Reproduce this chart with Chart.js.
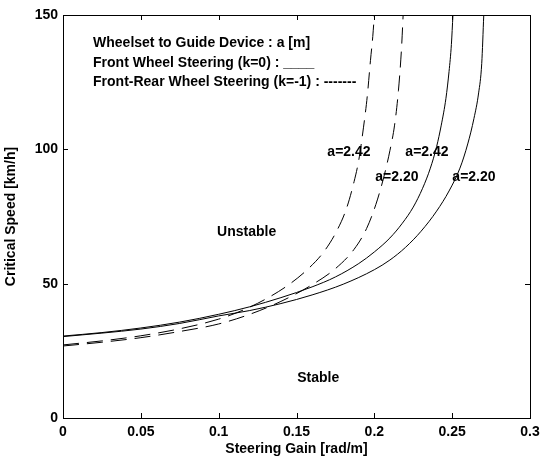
<!DOCTYPE html>
<html>
<head>
<meta charset="utf-8">
<script src="https://cdn.jsdelivr.net/npm/chart.js@4.4.0/dist/chart.umd.min.js"></script>
<style>
  html, body { margin: 0; padding: 0; background: #fff; }
</style>
</head>
<body>
<canvas id="ctxSpeed" width="546" height="466"></canvas>
<script>
// steering gain [rad/m] vs critical speed [km/h]
// k=0 (front wheel steering), solid
var gainK0a242 = [0, 0.025, 0.05, 0.075, 0.1, 0.12, 0.14, 0.16, 0.175, 0.19, 0.2, 0.21, 0.218, 0.225, 0.231, 0.236, 0.24, 0.243, 0.246, 0.248, 0.2495, 0.2505];
var speedK0a242 = [30.5, 31.8, 33.5, 35.7, 38.6, 41.4, 44.8, 48.8, 52.5, 57.5, 61.8, 67, 72.5, 78.5, 85.5, 93, 101, 109, 119, 129, 139, 150];

var gainK0a220 = [0, 0.025, 0.05, 0.075, 0.1, 0.12, 0.14, 0.16, 0.18, 0.2, 0.21, 0.22, 0.23, 0.24, 0.248, 0.255, 0.26, 0.264, 0.267, 0.269, 0.2703];
var speedK0a220 = [30.3, 31.6, 33.1, 35.2, 38, 40, 42.6, 45.8, 49.8, 55.2, 58.8, 63.5, 69.5, 77, 84.5, 93, 102, 111.5, 121, 132, 150];

// k=-1 (front-rear wheel steering), dashed
var gainK1a242 = [0, 0.025, 0.05, 0.075, 0.1, 0.115, 0.13, 0.145, 0.158, 0.168, 0.176, 0.182, 0.187, 0.19, 0.193, 0.1955, 0.1975, 0.199, 0.2];
var speedK1a242 = [27.2, 28.7, 30.6, 33.2, 36.8, 40, 44.2, 49.6, 55.8, 62.2, 69.8, 77.8, 88, 96, 108, 120, 133, 142, 150];

var gainK1a220 = [0, 0.025, 0.05, 0.075, 0.1, 0.12, 0.14, 0.16, 0.175, 0.187, 0.195, 0.201, 0.206, 0.21, 0.213, 0.2155, 0.2175, 0.2185];
var speedK1a220 = [26.8, 28.2, 29.9, 32.2, 35, 38.6, 43.4, 49.6, 55.6, 62.8, 70.5, 79.5, 89.5, 99.5, 109, 122, 138, 150];

var xTicks = [0, 0.05, 0.1, 0.15, 0.2, 0.25, 0.3];
var xTickLabels = ['0', '0.05', '0.1', '0.15', '0.2', '0.25', '0.3'];
var yTicks = [0, 50, 100, 150];
var yTickLabels = ['0', '50', '100', '150'];

// texts placed in data units
var notes = [
  { text: 'Wheelset to Guide Device : a [m]', x: 0.0193, y: 139.6, align: 'left' },
  { text: 'Front Wheel Steering (k=0) : ____', x: 0.0193, y: 132.1, align: 'left' },
  { text: 'Front-Rear Wheel Steering (k=-1) : -------', x: 0.0193, y: 125, align: 'left' },
  { text: 'a=2.42', x: 0.1837, y: 99, align: 'center' },
  { text: 'a=2.20', x: 0.2145, y: 89.7, align: 'center' },
  { text: 'a=2.42', x: 0.2338, y: 99, align: 'center' },
  { text: 'a=2.20', x: 0.264, y: 89.7, align: 'center' },
  { text: 'Unstable', x: 0.118, y: 69, align: 'center' },
  { text: 'Stable', x: 0.164, y: 15, align: 'center' }
];

function pts(xs, ys) {
  return xs.map(function (v, i) { return { x: v, y: ys[i] }; });
}

var boldFont = { family: '"Liberation Sans", Arial, sans-serif', size: 14, weight: 'bold' };

var frameAndNotes = {
  id: 'frameAndNotes',
  afterDatasetsDraw: function (chart) {
    var c = chart.ctx, a = chart.chartArea;
    var sx = chart.scales.x, sy = chart.scales.y;
    c.save();
    c.strokeStyle = '#000';
    c.lineWidth = 1;
    c.setLineDash([]);
    c.strokeRect(a.left + 0.5, a.top + 0.5, a.right - a.left, a.bottom - a.top);
    c.beginPath();
    xTicks.forEach(function (v) {
      var px = Math.round(sx.getPixelForValue(v)) + 0.5;
      c.moveTo(px, a.bottom); c.lineTo(px, a.bottom - 5);
      c.moveTo(px, a.top); c.lineTo(px, a.top + 5);
    });
    yTicks.forEach(function (v) {
      var py = Math.round(sy.getPixelForValue(v)) + 0.5;
      c.moveTo(a.left, py); c.lineTo(a.left + 5, py);
      c.moveTo(a.right, py); c.lineTo(a.right - 5, py);
    });
    c.stroke();
    c.fillStyle = '#000';
    c.font = 'bold 14px "Liberation Sans", Arial, sans-serif';
    c.textBaseline = 'middle';
    notes.forEach(function (n) {
      c.textAlign = n.align;
      c.fillText(n.text, sx.getPixelForValue(n.x), sy.getPixelForValue(n.y));
    });
    c.restore();
  }
};

function line(data, dashed) {
  return {
    data: data,
    borderColor: '#000',
    borderWidth: 1,
    borderDash: dashed ? [16, 8] : [],
    pointRadius: 0,
    fill: false,
    cubicInterpolationMode: 'monotone'
  };
}

new Chart(document.getElementById('ctxSpeed'), {
  type: 'line',
  data: {
    datasets: [
      line(pts(gainK0a242, speedK0a242), false),
      line(pts(gainK0a220, speedK0a220), false),
      line(pts(gainK1a242, speedK1a242), true),
      line(pts(gainK1a220, speedK1a220), true)
    ]
  },
  options: {
    responsive: false,
    animation: false,
    devicePixelRatio: 1,
    layout: { padding: { top: 15, right: 16, left: 0, bottom: 0 } },
    plugins: { legend: { display: false }, tooltip: { enabled: false } },
    scales: {
      x: {
        type: 'linear',
        min: 0,
        max: 0.3,
        afterBuildTicks: function (s) { s.ticks = xTicks.map(function (v) { return { value: v }; }); },
        afterFit: function (s) { s.height = 48; },
        ticks: {
          color: '#000',
          font: boldFont,
          padding: 6,
          maxRotation: 0,
          autoSkip: false,
          callback: function (v, i) { return xTickLabels[i]; }
        },
        grid: { display: false, drawTicks: false },
        border: { display: false },
        title: {
          display: true,
          text: 'Steering Gain [rad/m]',
          color: '#000',
          font: boldFont,
          padding: { top: 0, bottom: 8 }
        }
      },
      y: {
        min: 0,
        max: 150,
        afterBuildTicks: function (s) { s.ticks = yTicks.map(function (v) { return { value: v }; }); },
        afterFit: function (s) { s.width = 63; },
        ticks: {
          color: '#000',
          font: boldFont,
          padding: 5,
          autoSkip: false,
          callback: function (v, i) { return yTickLabels[i]; }
        },
        grid: { display: false, drawTicks: false },
        border: { display: false },
        title: {
          display: true,
          text: 'Critical Speed [km/h]',
          color: '#000',
          font: boldFont,
          padding: { top: 3, bottom: 0 }
        }
      }
    }
  },
  plugins: [frameAndNotes]
});
</script>
</body>
</html>
